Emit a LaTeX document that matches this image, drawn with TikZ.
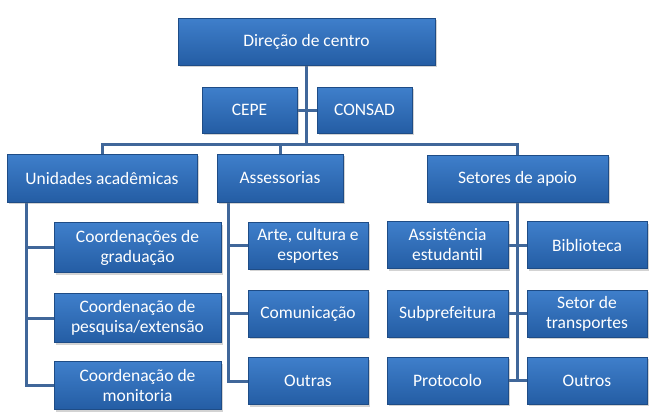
\documentclass[tikz,border=0pt]{standalone}
\usepackage{fontspec}
\setmainfont{Carlito}
\usetikzlibrary{positioning,calc,shadows}
\pgfdeclarelayer{background}
\pgfsetlayers{background,main}
\definecolor{boxtop}{HTML}{3F7FCB}
\definecolor{boxbot}{HTML}{245DA4}
\definecolor{boxedge}{HTML}{1E4C86}
\definecolor{linkcol}{HTML}{40679A}
\tikzset{
  unit/.style={rectangle,top color=boxtop,bottom color=boxbot,draw=boxedge,line width=0.6pt,
    text=white,align=center,inner sep=2pt,font=\fontsize{17.5}{20}\selectfont,
    drop shadow={shadow xshift=1.5pt,shadow yshift=-2pt,opacity=0.35}},
  link/.style={draw=linkcol,line width=3pt}
}

\begin{document}
\begin{tikzpicture}[x=1pt,y=-1pt]

        \useasboundingbox (0,0) rectangle (654,416);

        % nodes
        \node [unit,minimum width=257pt,minimum height=47pt] (dir) at (306.5,41.5) {Direção de centro};
        \node [unit,minimum width=95pt,minimum height=46pt] (cepe) at (249.5,110) {CEPE};
        \node [unit,minimum width=95pt,minimum height=46pt] (consad) at (364.5,110) {CONSAD};

        \node [unit,minimum width=190pt,minimum height=48pt] (unid) at (102,178) {Unidades acadêmicas};
        \node [unit,minimum width=126pt,minimum height=48pt] (asses) at (280,178) {Assessorias};
        \node [unit,minimum width=181pt,minimum height=47pt] (setores) at (517.5,178.5) {Setores de apoio};

        \node [unit,minimum width=167pt,minimum height=50pt] (cgrad) at (137.5,247.5) {Coordenações de\\graduação};
        \node [unit,minimum width=167pt,minimum height=49pt] (cpesq) at (137.5,318) {Coordenação de\\pesquisa/extensão};
        \node [unit,minimum width=167pt,minimum height=48pt] (cmon) at (137.5,385.5) {Coordenação de\\monitoria};

        \node [unit,minimum width=120pt,minimum height=47pt] (arte) at (308,245.5) {Arte, cultura e\\esportes};
        \node [unit,minimum width=120pt,minimum height=47pt] (comun) at (308,313.5) {Comunicação};
        \node [unit,minimum width=120pt,minimum height=47pt] (outras) at (308,381) {Outras};

        \node [unit,minimum width=121pt,minimum height=47pt] (assist) at (447.5,245) {Assistência\\estudantil};
        \node [unit,minimum width=120pt,minimum height=47pt] (biblio) at (587,245) {Biblioteca};
        \node [unit,minimum width=121pt,minimum height=47pt] (subpref) at (447.5,313.5) {Subprefeitura};
        \node [unit,minimum width=120pt,minimum height=47pt] (transp) at (587,313.5) {Setor de\\transportes};
        \node [unit,minimum width=121pt,minimum height=47pt] (proto) at (447.5,380.5) {Protocolo};
        \node [unit,minimum width=120pt,minimum height=47pt] (outros) at (587,380.5) {Outros};

        % lines
        \begin{pgfonlayer}{background}
        \coordinate (bar) at (307,144);
        \draw [link] (dir.south) -- (dir.south |- bar);
        \draw [link] (unid.north) |- (bar) -| (setores.north);
        \draw [link] (asses.north) -- (asses.north |- bar);
        \draw [link] (cepe.east) -- (consad.west);

        \draw [link] (unid.south west) ++(20,0) coordinate (utrunk) -- (utrunk |- cmon.west) -- (cmon.west);
        \draw [link] (utrunk |- cgrad.west) -- (cgrad.west);
        \draw [link] (utrunk |- cpesq.west) -- (cpesq.west);

        \draw [link] (asses.south west) ++(12,0) coordinate (atrunk) -- (atrunk |- outras.west) -- (outras.west);
        \draw [link] (atrunk |- arte.west) -- (arte.west);
        \draw [link] (atrunk |- comun.west) -- (comun.west);

        \draw [link] (setores.south) -- (setores.south |- proto.east);
        \draw [link] (assist.east) -- (biblio.west);
        \draw [link] (subpref.east) -- (transp.west);
        \draw [link] (proto.east) -- (outros.west);
        \end{pgfonlayer}

    \end{tikzpicture}
\end{document}
